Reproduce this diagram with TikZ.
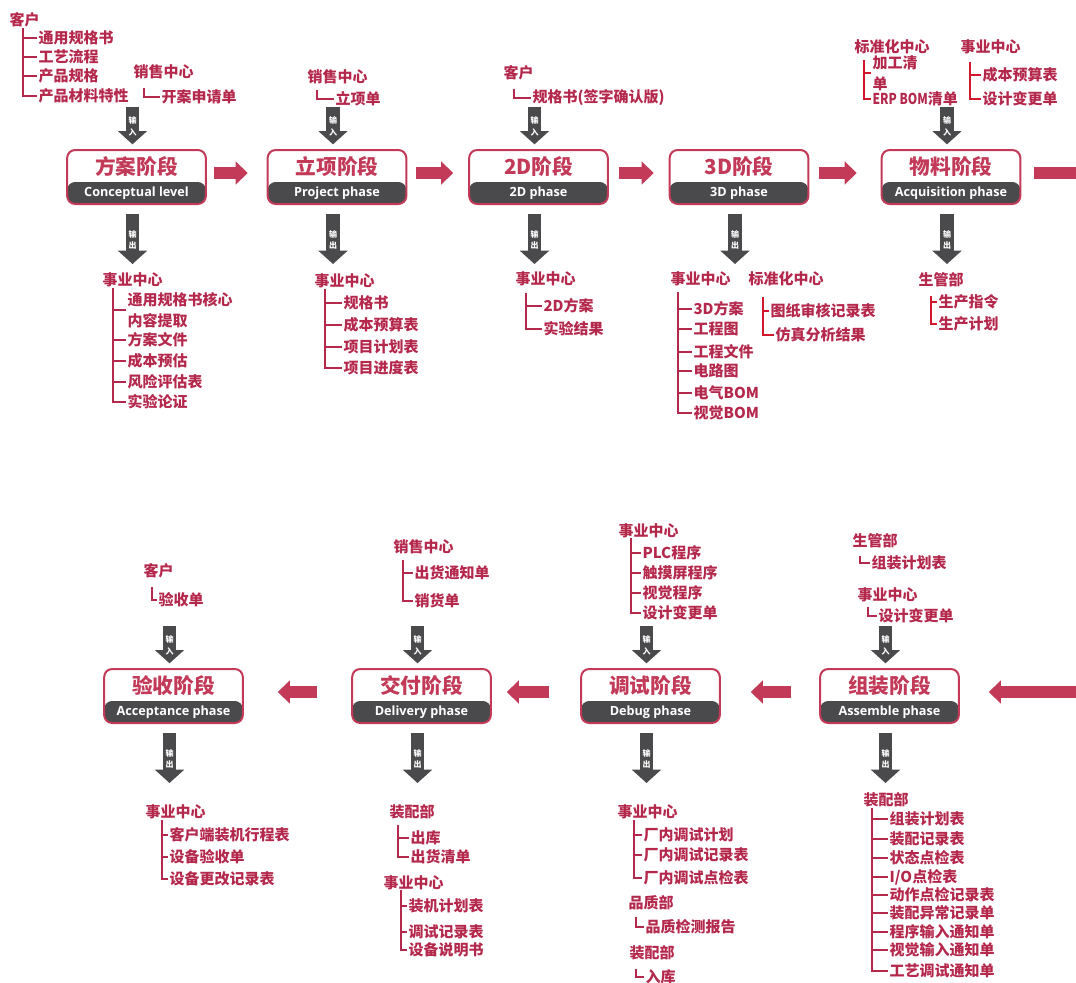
\documentclass[tikz,border=0pt]{standalone}
\usepackage{fontspec}
\newfontfamily\cjk{Noto Sans CJK SC}
\newfontfamily\enfont{Open Sans}
\usetikzlibrary{arrows.meta,positioning,calc}
\definecolor{phasered}{RGB}{194,58,88}
\definecolor{textred}{RGB}{180,40,76}
\definecolor{brightred}{RGB}{210,24,44}
\definecolor{darkband}{RGB}{74,74,76}

\tikzset{
  stage/.style={draw=phasered, line width=1.5pt, rounded corners=6pt, fill=white,
    minimum width=104pt, minimum height=40.5pt, inner sep=0pt,
    path picture={\fill[darkband] ([yshift=16.5pt]path picture bounding box.south west)
      rectangle (path picture bounding box.south east);}},
  title/.style={font=\cjk\bfseries\fontsize{15.5}{15.5}\selectfont, text=phasered, inner sep=0pt},
  subtitle/.style={font=\enfont\bfseries\fontsize{9.5}{9.5}\selectfont, text=white, inner sep=0pt},
  flow/.style={phasered, line width=8.5pt, -{Triangle[width=17pt,length=9pt]}},
  flowbar/.style={phasered, line width=8.5pt},
  ioarrow/.style={darkband, line width=10pt, -{Triangle[width=21.5pt,length=10pt]}},
  iolabel/.style={font=\cjk\bfseries\fontsize{6}{8.5}\selectfont, text=white, align=center, inner sep=0pt},
  item/.style={font=\cjk\bfseries\fontsize{11.25}{15.75}\selectfont, text=textred, anchor=west, inner sep=1pt, align=left},
  head/.style={item},
  tree/.style={draw=textred, line width=1pt},
  treebright/.style={draw=brightred, line width=1pt}
}

% stage box: name, x, y, chinese, english
\newcommand\stage[5]{%
  \node[stage] (#1) at (#2,#3) {};
  \node[title] (#1t) at ([yshift=-13.5pt]#1.north) {#4};
  \node[subtitle] (#1e) at ([yshift=8.5pt]#1.south) {#5};}
% input / output arrows of a stage
\newcommand\inarrow[1]{%
  \coordinate (#1in) at ([xshift=-3pt,yshift=31.5pt]#1.north);
  \draw[ioarrow, shorten >=3.5pt] (#1in) -- (#1in |- #1.north)
    node[iolabel, at start, anchor=north, yshift=-2.5pt] (#1inl) {输\\入};}
\newcommand\outarrow[1]{%
  \coordinate (#1out) at ([xshift=-3pt,yshift=-44.25pt]#1.south);
  \draw[ioarrow, shorten <=6.75pt] (#1out |- #1.south) -- (#1out)
    node[iolabel, at start, anchor=north, yshift=-14pt] (#1outl) {输\\出};}
% list hanging on a line: prefix, x of line, x of text, top of line, {y/text}
\newcommand\treelist[6][tree]{%
  \foreach \yy/\txt [count=\k] in {#6} {
    \node[item] (#2\k) at (#4,\yy) {\txt};
    \draw[#1] (#3,#5) -- (#3,\yy) -- (#2\k.west);
  }}

\begin{document}
\begin{tikzpicture}[x=0.75pt, y=-0.75pt]
\useasboundingbox (0,0) rectangle (1076,983);

% ---- phases
\stage{s1}{136.5}{177}{方案阶段}{Conceptual level}
\stage{s2}{337}{177}{立项阶段}{Project phase}
\stage{s3}{538.5}{177}{2D阶段}{2D phase}
\stage{s4}{739}{177}{3D阶段}{3D phase}
\stage{s5}{951}{177}{物料阶段}{Acquisition phase}
\stage{b4}{889.5}{696}{组装阶段}{Assemble phase}
\stage{b3}{650.5}{696}{调试阶段}{Debug phase}
\stage{b2}{421.5}{696}{交付阶段}{Delivery phase}
\stage{b1}{173.5}{696}{验收阶段}{Acceptance phase}

% ---- flow between phases
\draw[flow, shorten <=5.25pt, shorten >=14.25pt] ([yshift=3pt]s1.east) -- ([yshift=3pt]s2.west);
\draw[flow, shorten <=6.75pt, shorten >=11.25pt] ([yshift=3pt]s2.east) -- ([yshift=3pt]s3.west);
\draw[flow, shorten <=7.5pt, shorten >=11.25pt] ([yshift=3pt]s3.east) -- ([yshift=3pt]s4.west);
\draw[flow, shorten <=7.5pt, shorten >=18pt] ([yshift=3pt]s4.east) -- ([yshift=3pt]s5.west);
\coordinate (rightout) at (1080,173);
\coordinate (rightin) at (1080,692);
\draw[flowbar, shorten <=9.75pt] ([yshift=3pt]s5.east) -- (rightout);
\draw[flow, shorten >=21.75pt] (rightin) -- ([yshift=3pt]b4.east);
\draw[flow, shorten <=21pt, shorten >=22.5pt] ([yshift=3pt]b4.west) -- ([yshift=3pt]b3.east);
\draw[flow, shorten <=23.25pt, shorten >=11.25pt] ([yshift=3pt]b3.west) -- ([yshift=3pt]b2.east);
\draw[flow, shorten <=25.5pt, shorten >=25.5pt] ([yshift=3pt]b2.west) -- ([yshift=3pt]b1.east);

\foreach \s in {s1,s2,s3,s5,b1,b2,b3,b4} {\inarrow{\s}}
\foreach \s in {s1,s2,s3,s4,s5,b1,b2,b3,b4} {\outarrow{\s}}

% ---- inputs, top row
\node[head] (s1ia) at (8,20) {客户};
\treelist{s1ix}{23}{37}{28}{38/通用规格书, 57/工艺流程, 76/产品规格, 96/产品材料特性}
\node[head] (s1ib) at (132,72) {销售中心};
\treelist{s1iy}{144}{160}{88}{97/开案申请单}
\node[head] (s2ia) at (306,77) {销售中心};
\treelist{s2ix}{317}{334}{90}{99/立项单}
\node[head] (s3ia) at (502,73) {客户};
\treelist{s3ix}{514}{531}{89}{98/规格书(签字确认版)}
\node[head] (s5ia) at (853,47) {标准化中心};
\treelist[treebright]{s5ix}{864}{871}{60}{73/加工清\\单, 99/\scalebox{0.8}[1]{ERP BOM}清单}
\node[head] (s5ib) at (959,47) {事业中心};
\treelist[treebright]{s5iy}{970}{981}{62}{75/成本预算表, 99/设计变更单}

% ---- outputs, top row
\node[head] (s1oa) at (101,280) {事业中心};
\treelist{s1ox}{113}{126}{288}{310/通用规格书核心\\内容提取, 340/方案文件, 361/成本预估, 382/风险评估表, 402/实验论证}
\node[head] (s2oa) at (313,281) {事业中心};
\treelist{s2ox}{325}{342}{289}{303/规格书, 325/成本预算表, 347/项目计划表, 368/项目进度表}
\node[head] (s3oa) at (514,279) {事业中心};
\treelist{s3ox}{526}{542}{293}{306/2D方案, 329/实验结果}
\node[head] (s4oa) at (669,279) {事业中心};
\treelist{s4ox}{678}{692}{292}{309/3D方案, 329/工程图, 352/工程文件, 371/电路图, 393/电气BOM, 413/视觉BOM}
\node[head] (s4ob) at (747,279) {标准化中心};
\treelist[treebright]{s4oy}{763}{769}{297}{311/图纸审核记录表}
\treelist[treebright]{s4oz}{763}{774}{297}{335/仿真分析结果}
\node[head] (s5oa) at (917,280) {生管部};
\treelist[treebright]{s5ox}{931}{937}{296}{302/生产指令, 324/生产计划}

% ---- inputs, bottom row
\node[head] (b1ia) at (142,571) {客户};
\treelist{b1ix}{152}{157}{587}{600/验收单}
\node[head] (b2ia) at (392,547) {销售中心};
\treelist{b2ix}{403}{413}{560}{573/出货通知单, 601/销货单}
\node[head] (b3ia) at (617,531) {事业中心};
\treelist{b3ix}{631}{641}{538}{553/PLC程序, 573/触摸屏程序, 593/视觉程序, 613/设计变更单}
\node[head] (b4ia) at (851,541) {生管部};
\treelist{b4ix}{860}{870}{556}{563/组装计划表}
\node[head] (b4ib) at (856,595) {事业中心};
\treelist{b4iy}{868}{877}{607}{616/设计变更单}

% ---- outputs, bottom row
\node[head] (b1oa) at (144,812) {事业中心};
\treelist{b1ox}{162}{168}{820}{835/客户端装机行程表, 857/设备验收单, 879/设备更改记录表}
\node[head] (b2oa) at (388,812) {装配部};
\treelist{b2ox}{398}{409}{825}{838/出库, 857/出货清单}
\node[head] (b2ob) at (382,883) {事业中心};
\treelist{b2oy}{401}{407}{890}{906/装机计划表, 932/调试记录表, 950/设备说明书}
\node[head] (b3oa) at (616,812) {事业中心};
\treelist{b3ox}{634}{642}{820}{835/厂内调试计划, 855/厂内调试记录表, 878/厂内调试点检表}
\node[head] (b3ob) at (627,903) {品质部};
\treelist{b3oy}{636}{644}{917}{927/品质检测报告}
\node[head] (b3oc) at (628,953) {装配部};
\treelist{b3oz}{636}{644}{969}{977/入库}
\node[head] (b4oa) at (862,800) {装配部};
\treelist{b4ox}{872}{888}{808}{819/组装计划表, 839/装配记录表, 858/状态点检表, 877/{I/O点检表}, 895/动作点检记录表, 913/装配异常记录单, 932/程序输入通知单, 950/视觉输入通知单, 971/工艺调试通知单}
\end{tikzpicture}
\end{document}
